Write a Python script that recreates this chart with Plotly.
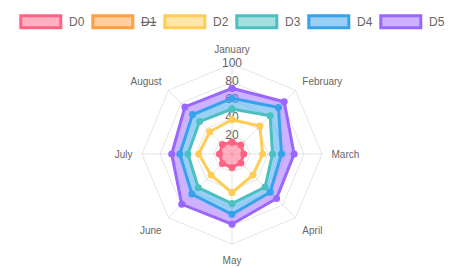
import plotly.graph_objects as go

months = ["January", "February", "March", "April", "May", "June", "July", "August"]
d0 = [13, 14, 13, 14, 15, 15, 14, 15]
d1 = [None] * 8  # hidden dataset
d2 = [38, 44, 34, 33, 43, 33, 37, 35]
d3 = [50, 60, 45, 52, 55, 53, 49, 51]
d4 = [62, 73, 55, 60, 67, 63, 58, 62]
d5 = [73, 82, 69, 70, 78, 79, 67, 74]
tick_vals = [20, 40, 60, 80, 100]
tick_text = ["20", "40", "60", "80", "100"]
legend_names = ["D0", "D1", "D2", "D3", "D4", "D5"]
legend_hidden = [False, True, False, False, False, False]

colors = {
    "D0": (255, 99, 132),
    "D1": (255, 159, 64),
    "D2": (255, 205, 86),
    "D3": (75, 192, 192),
    "D4": (54, 162, 235),
    "D5": (153, 102, 255),
}

def rgb(c, a=None):
    if a is None:
        return "rgb(%d,%d,%d)" % c
    return "rgba(%d,%d,%d,%s)" % (c + (a,))

W, H = 472, 267
FONT = "Liberation Sans, Arial, Helvetica, sans-serif"

fig = go.Figure()

# radial tick labels drawn centred on the January spoke
fig.add_trace(go.Scatterpolar(
    r=tick_vals, theta=["January"] * len(tick_vals), mode="text",
    text=tick_text, textfont=dict(size=12, color="#666", family=FONT),
    textposition="middle center", showlegend=False, hoverinfo="skip"))

def closed(v):
    return v + [v[0]]

th = closed(months)

def add(name, vals, fill):
    c = colors[name]
    fig.add_trace(go.Scatterpolar(
        r=closed(vals), theta=th, name=name, mode="lines+markers",
        line=dict(color=rgb(c), width=3),
        marker=dict(size=7, color=rgb(c)),
        fill=fill, fillcolor=rgb(c, 0.5) if fill != "none" else None,
        showlegend=False))

add("D0", d0, "toself")
fig.add_trace(go.Scatterpolar(r=closed(d1), theta=th, name="D1", visible=False, showlegend=False))
add("D2", d2, "none")
add("D3", d3, "none")
add("D4", d4, "tonext")
add("D5", d5, "tonext")

cx, cy, R = 232, 154, 90
fig.update_layout(
    width=W, height=H,
    margin=dict(l=0, r=0, t=0, b=0),
    paper_bgcolor="white",
    font=dict(family=FONT, color="#666"),
    polar=dict(
        domain=dict(x=[(cx - R) / W, (cx + R) / W], y=[1 - (cy + R) / H, 1 - (cy - R) / H]),
        bgcolor="white",
        gridshape="linear",
        radialaxis=dict(range=[0, 100], tickvals=tick_vals, showticklabels=False,
                        ticks="", showline=False, gridcolor="rgba(0,0,0,0.1)",
                        gridwidth=1, layer="below traces"),
        angularaxis=dict(type="category", categoryarray=months, direction="clockwise",
                         rotation=90, gridcolor="rgba(0,0,0,0.1)", linecolor="rgba(0,0,0,0.1)",
                         showline=True, ticks="outside", ticklen=7, tickcolor="rgba(0,0,0,0)",
                         tickfont=dict(size=10, color="#666", family=FONT),
                         layer="below traces"),
    ),
)

# custom legend (Chart.js style)
for i, name in enumerate(legend_names):
    c = colors[name]
    x0 = 20.8 + 72 * i
    y0, y1 = 15.8, 27.8
    fig.add_shape(type="rect", xref="paper", yref="paper",
                  x0=x0 / W, x1=(x0 + 40) / W, y0=1 - y1 / H, y1=1 - y0 / H,
                  line=dict(color=rgb(c), width=3), fillcolor=rgb(c, 0.5))
    label = "<s>%s</s>" % name if legend_hidden[i] else name
    fig.add_annotation(xref="paper", yref="paper", x=(x0 + 46) / W, y=1 - 21.8 / H,
                       xanchor="left", yanchor="middle", showarrow=False, text=label,
                       font=dict(size=12, color="#666", family=FONT))

fig.write_html("out.html")
